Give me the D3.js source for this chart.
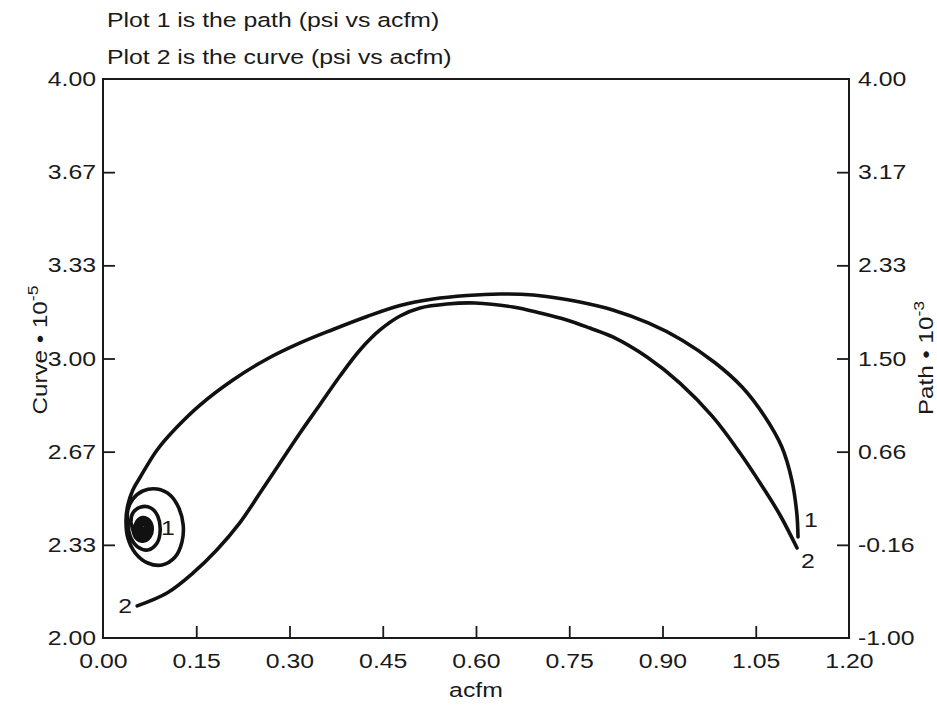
<!DOCTYPE html>
<html>
<head>
<meta charset="utf-8">
<script src="https://cdn.jsdelivr.net/npm/d3@7"></script>
<style>
  html, body { margin: 0; padding: 0; background: #fff; }
  svg text { font-family: "Liberation Sans", Arial, Helvetica, sans-serif; fill: #1a1a1a; }
</style>
</head>
<body>
<svg id="chart" width="937" height="705"></svg>
<script>
// ---------- data ----------
const titleLines = ["Plot 1 is the path (psi vs acfm)", "Plot 2 is the curve (psi vs acfm)"];
const xLabelText = "acfm";
const leftLabelText = "Curve \u2022 10";
const leftLabelExp = "-5";
const rightLabelText = "Path \u2022 10";
const rightLabelExp = "-3";

const xTicks = [0, 0.15, 0.30, 0.45, 0.60, 0.75, 0.90, 1.05, 1.20];
const xTickLabels = ["0.00", "0.15", "0.30", "0.45", "0.60", "0.75", "0.90", "1.05", "1.20"];
const leftTicks = [2.0, 2.3333, 2.6667, 3.0, 3.3333, 3.6667, 4.0];
const leftTickLabels = ["2.00", "2.33", "2.67", "3.00", "3.33", "3.67", "4.00"];
const rightTicks = [-1.0, -0.1667, 0.6667, 1.5, 2.3333, 3.1667, 4.0];
const rightTickLabels = ["-1.00", "-0.16", "0.66", "1.50", "2.33", "3.17", "4.00"];

// Plot 1: the path (acfm, psi on right axis, x10^-3) - from right end into the spiral
const pathAcfm = [1.118, 1.116, 1.108, 1.092, 1.065, 1.028, 0.985, 0.931, 0.877, 0.820, 0.767, 0.719, 0.692, 0.639, 0.5855, 0.5308, 0.4778, 0.4247, 0.3700, 0.317, 0.261, 0.209, 0.156, 0.119, 0.087, 0.060, 0.048, 0.040,
  0.037, 0.040, 0.052, 0.072, 0.095, 0.116, 0.127, 0.129, 0.122, 0.108, 0.087, 0.064, 0.048, 0.040,
  0.040, 0.045, 0.056, 0.072, 0.087, 0.092, 0.088, 0.077, 0.061, 0.048, 0.045,
  0.0475, 0.0528, 0.0643, 0.0752, 0.0792, 0.0745, 0.0643, 0.0549,
  0.0516, 0.0557, 0.0643, 0.0723, 0.0751, 0.0716, 0.0643, 0.0579,
  0.0557, 0.0586, 0.0643, 0.0694, 0.0709, 0.0686, 0.0643, 0.0608,
  0.0598, 0.0615, 0.0643, 0.0665, 0.0668, 0.0643];
const pathPsi = [-0.097, 0.118, 0.413, 0.708, 0.977, 1.245, 1.460, 1.666, 1.818, 1.934, 2.005, 2.050, 2.068, 2.077, 2.0635, 2.0322, 1.9741, 1.8757, 1.7594, 1.639, 1.487, 1.308, 1.084, 0.887, 0.682, 0.440, 0.324, 0.190,
  0.056, -0.106, -0.240, -0.329, -0.347, -0.276, -0.141, 0.011, 0.163, 0.279, 0.333, 0.315, 0.243, 0.145,
  0.011, -0.106, -0.186, -0.213, -0.150, -0.034, 0.091, 0.163, 0.172, 0.118, 0.038,
  -0.0206, -0.1033, -0.1338, -0.0979, -0.0206, 0.0515, 0.0776, 0.0462,
  -0.0206, -0.0820, -0.1038, -0.0768, -0.0206, 0.0302, 0.0475, 0.0250,
  -0.0206, -0.0608, -0.0737, -0.0555, -0.0206, 0.0092, 0.0175, 0.0038,
  -0.0206, -0.0396, -0.0436, -0.0342, -0.0206, -0.0161];

// Plot 2: the curve (acfm, psi on left axis, x10^-5)
const curveAcfm = [0.055, 0.103, 0.145, 0.183, 0.220, 0.2525, 0.2847, 0.3169, 0.3491, 0.3812, 0.4134, 0.4456, 0.4778, 0.5099, 0.5534, 0.5984, 0.6595, 0.703, 0.746, 0.783, 0.820, 0.875, 0.928, 0.981, 1.0247, 1.0601, 1.089, 1.1164];
const curvePsi = [2.115, 2.161, 2.233, 2.315, 2.412, 2.5188, 2.6261, 2.7335, 2.8354, 2.9374, 3.0304, 3.1020, 3.1521, 3.1807, 3.1950, 3.1986, 3.1843, 3.163, 3.138, 3.109, 3.077, 3.005, 2.912, 2.791, 2.6619, 2.5438, 2.4401, 2.322];

// ---------- layout ----------
const m = { left: 103, right: 849, top: 79, bottom: 638 };
const FS = 20.5, STRETCH = 1.21;

const svg = d3.select("#chart");
const x = d3.scaleLinear().domain([0, 1.2]).range([m.left, m.right]);
const yL = d3.scaleLinear().domain([2, 4]).range([m.bottom, m.top]);
const yR = d3.scaleLinear().domain([-1, 4]).range([m.bottom, m.top]);

function stretch(sel, k) {
  sel.each(function () {
    const w = this.getComputedTextLength();
    if (w > 0) {
      this.setAttribute("textLength", (w * k).toFixed(2));
      this.setAttribute("lengthAdjust", "spacingAndGlyphs");
    }
  });
}

// titles
titleLines.forEach((t, i) => {
  svg.append("text").attr("x", 107).attr("y", 27 + i * 37)
    .attr("font-size", FS).text(t).call(stretch, STRETCH);
});

// axes
const gx = svg.append("g").attr("transform", `translate(0,${m.bottom})`)
  .call(d3.axisBottom(x).tickValues(xTicks).tickFormat((d, i) => xTickLabels[i])
    .tickSizeInner(-12).tickSizeOuter(0).tickPadding(15));
const gl = svg.append("g").attr("transform", `translate(${m.left},0)`)
  .call(d3.axisLeft(yL).tickValues(leftTicks).tickFormat((d, i) => leftTickLabels[i])
    .tickSizeInner(-12).tickSizeOuter(0).tickPadding(7));
const gr = svg.append("g").attr("transform", `translate(${m.right},0)`)
  .call(d3.axisRight(yR).tickValues(rightTicks).tickFormat((d, i) => rightTickLabels[i])
    .tickSizeInner(-12).tickSizeOuter(0).tickPadding(9));

[gx, gl, gr].forEach(g => {
  g.select(".domain").remove();
  g.selectAll(".tick line").attr("stroke", "#1a1a1a").attr("stroke-width", 1.8);
  g.selectAll(".tick text").attr("font-size", FS).attr("fill", "#1a1a1a")
    .style("font-family", '"Liberation Sans", Arial, sans-serif');
  g.selectAll(".tick text").call(stretch, STRETCH);
});
gx.selectAll(".tick line").filter((d, i) => i === 0 || i === xTicks.length - 1).remove();
gl.selectAll(".tick line").filter((d, i) => i === 0 || i === leftTicks.length - 1).remove();
gr.selectAll(".tick line").filter((d, i) => i === 0 || i === rightTicks.length - 1).remove();

// frame
svg.append("rect").attr("x", m.left).attr("y", m.top)
  .attr("width", m.right - m.left).attr("height", m.bottom - m.top)
  .attr("fill", "none").attr("stroke", "#1a1a1a").attr("stroke-width", 2);

// axis titles
svg.append("text").attr("x", (m.left + m.right) / 2).attr("y", 697)
  .attr("text-anchor", "middle").attr("font-size", FS).text(xLabelText).call(stretch, STRETCH);

function rotLabel(cx, cy, main, exp) {
  const t = svg.append("text").attr("transform", `translate(${cx},${cy}) rotate(-90) scale(1.18,1)`)
    .attr("text-anchor", "middle").attr("font-size", FS);
  t.append("tspan").text(main);
  t.append("tspan").attr("dy", -9).attr("font-size", 15).text(exp);
}
rotLabel(47, 350, leftLabelText, leftLabelExp);
rotLabel(933, 358, rightLabelText, rightLabelExp);

// lines
const pathPts = pathAcfm.map((a, i) => [x(a), yR(pathPsi[i])]);
const curvePts = curveAcfm.map((a, i) => [x(a), yL(curvePsi[i])]);
const line = d3.line().curve(d3.curveCatmullRom.alpha(0.5));

svg.append("path").attr("d", line(curvePts)).attr("fill", "none")
  .attr("stroke", "#111").attr("stroke-width", 3.6).attr("stroke-linecap", "round").attr("stroke-linejoin", "round");
svg.append("path").attr("d", line(pathPts)).attr("fill", "none")
  .attr("stroke", "#111").attr("stroke-width", 3.6).attr("stroke-linecap", "round").attr("stroke-linejoin", "round");

// curve number labels
function numLabel(px, py, dx, dy, t) {
  svg.append("text").attr("x", px + dx).attr("y", py + dy).attr("dy", "0.36em")
    .attr("text-anchor", "middle").attr("font-size", FS).text(t).call(stretch, STRETCH);
}
const pEnd = pathPts[0], pCenter = pathPts[pathPts.length - 1];
const cStart = curvePts[0], cEnd = curvePts[curvePts.length - 1];
numLabel(pCenter[0], pCenter[1], 25, 0, "1");
numLabel(pEnd[0], pEnd[1], 13, -17, "1");
numLabel(cStart[0], cStart[1], -12, 0, "2");
numLabel(cEnd[0], cEnd[1], 11, 13, "2");
</script>
</body>
</html>
